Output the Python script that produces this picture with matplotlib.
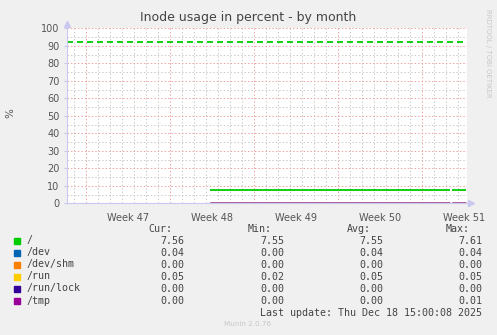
import numpy as np
import pandas as pd
import matplotlib
matplotlib.use("Agg")
import matplotlib.pyplot as plt
import matplotlib.dates as mdates
from matplotlib.patches import Rectangle

series_names = ["/", "/dev", "/dev/shm", "/run", "/run/lock", "/tmp"]
series_colors = ["#00CC00", "#0066B3", "#FF8000", "#FFCC00", "#330099", "#990099"]
cur_vals = [7.56, 0.04, 0.00, 0.05, 0.00, 0.00]
min_vals = [7.55, 0.00, 0.00, 0.02, 0.00, 0.00]
avg_vals = [7.55, 0.04, 0.00, 0.05, 0.00, 0.00]
max_vals = [7.61, 0.04, 0.00, 0.05, 0.00, 0.01]

times = pd.to_datetime(["2025-11-27 08:00", "2025-12-17 08:00", "2025-12-17 10:00",
                        "2025-12-17 12:00", "2025-12-18 16:00"])
root_usage = [7.56, 7.56, np.nan, 7.56, 7.56]
dev_usage = [0.04, 0.04, np.nan, 0.04, 0.04]
devshm_usage = [0.00, 0.00, np.nan, 0.00, 0.00]
run_usage = [0.05, 0.05, np.nan, 0.05, 0.05]
runlock_usage = [0.00, 0.00, np.nan, 0.00, 0.00]
tmp_usage = [0.00, 0.00, np.nan, 0.00, 0.01]
usages = [root_usage, dev_usage, devshm_usage, run_usage, runlock_usage, tmp_usage]

root_warning = 92
x_start = pd.Timestamp("2025-11-15 08:00")
x_end = pd.Timestamp("2025-12-18 17:00")
last_update = "Last update: Thu Dec 18 15:00:08 2025"

W, H = 497, 335
plt.rcParams["lines.scale_dashes"] = False
fig = plt.figure(figsize=(W / 100, H / 100), dpi=100, facecolor="#F0F0F0")
ax = fig.add_axes([66.5 / W, (H - 203.3) / H, 400 / W, 175 / H])
ax.set_facecolor("white")

ax.set_xlim(x_start, x_end)
ax.set_ylim(0, 100)
ax.set_yticks(np.arange(0, 101, 10))
ax.set_yticks(np.arange(5, 100, 10), minor=True)
ax.xaxis.set_major_locator(mdates.WeekdayLocator(byweekday=mdates.MO))
ax.xaxis.set_minor_locator(mdates.DayLocator())
ax.xaxis.set_major_formatter(plt.NullFormatter())

ax.grid(which="minor", color="#c8c8c8", linestyle=(0, (1, 1.5)), linewidth=0.7)
ax.grid(which="major", color="#eea0a0", linestyle=(0, (1, 1.5)), linewidth=0.7)
ax.set_axisbelow(True)

for s in ["top", "right"]:
    ax.spines[s].set_visible(False)
for s in ["left", "bottom"]:
    ax.spines[s].set_color("#c8c8f0")
    ax.spines[s].set_linewidth(0.8)
ax.tick_params(axis="y", which="major", length=2, color="#c8c8f0", pad=3,
               labelsize=7, labelcolor="#555555")
ax.tick_params(axis="y", which="minor", length=0)
ax.tick_params(axis="x", which="both", length=0)

# week labels centred in each week
for t in ax.xaxis.get_majorticklocs():
    ax.text(t + 3.5, -5.5, "Week " + mdates.num2date(t).strftime("%V"),
            ha="center", va="top", fontsize=7, color="#555555", clip_on=False)

# arrows at the axis ends
ax.plot([0], [1.025], marker="^", markersize=4, color="#c8c8f0",
        transform=ax.transAxes, clip_on=False)
ax.plot([1.01], [0], marker=">", markersize=4, color="#c8c8f0",
        transform=ax.transAxes, clip_on=False)

# warning line and data
ax.axhline(root_warning, xmax=0.99, color=series_colors[0], linewidth=1.3,
           dashes=(4.3, 2.9))
for i, (vals, col) in enumerate(zip(usages, series_colors)):
    ax.plot(times, vals, color=col, linewidth=1.3 if i == 0 else 1.0,
            solid_capstyle="butt")

fig.text(248 / W, 1 - 18 / H, "Inode usage in percent - by month", ha="center",
         va="center", fontsize=9, color="#444444")
fig.text(10 / W, 1 - 113 / H, "%", rotation=90, ha="center", va="center",
         fontsize=7.5, color="#555555")
fig.text(488 / W, 1 - 53 / H, "RRDTOOL / TOBI OETIKER", rotation=270, ha="center",
         va="center", fontsize=5, color="#c8c8c8")

# legend table
mono = "DejaVu Sans Mono"
fs = 7.2
leg_col = "#444444"
head_y = 228.5
row_h = 12
for label, xr in zip(["Cur:", "Min:", "Avg:", "Max:"], [172, 272, 371, 470]):
    fig.text(xr / W, 1 - head_y / H, label, ha="right", va="center",
             family=mono, fontsize=fs, color=leg_col)
for i, name in enumerate(series_names):
    y = head_y + row_h * (i + 1)
    fig.patches.append(Rectangle((14 / W, 1 - (y + 3) / H), 5.5 / W, 5.5 / H,
                                 transform=fig.transFigure, color=series_colors[i]))
    fig.text(26.5 / W, 1 - y / H, name, ha="left", va="center",
             family=mono, fontsize=fs, color=leg_col)
    for v, xr in zip([cur_vals[i], min_vals[i], avg_vals[i], max_vals[i]],
                     [184, 284, 383, 482]):
        fig.text(xr / W, 1 - y / H, f"{v:.2f}", ha="right", va="center",
                 family=mono, fontsize=fs, color=leg_col)
fig.text(482 / W, 1 - (head_y + row_h * 7) / H, last_update, ha="right", va="center",
         family=mono, fontsize=fs, color=leg_col)
fig.text(248 / W, 1 - 324 / H, "Munin 2.0.76", ha="center", va="center",
         fontsize=5.2, color="#c8c8c8")

fig.savefig("out.png", dpi=100, facecolor=fig.get_facecolor())
